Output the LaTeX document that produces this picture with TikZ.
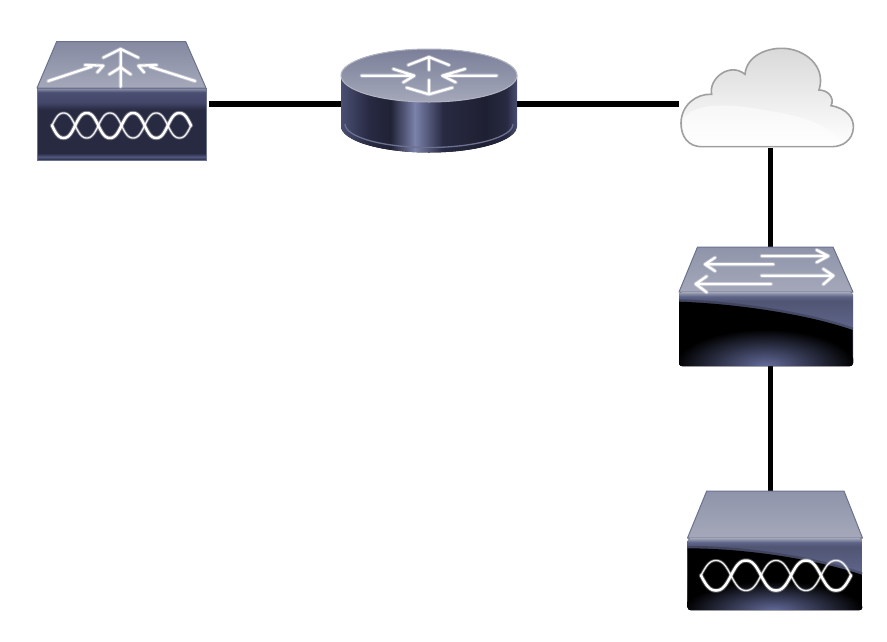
\documentclass[tikz,border=0pt]{standalone}
\usetikzlibrary{calc}
\definecolor{topL}{HTML}{A4A8B9}
\definecolor{topD}{HTML}{9094AA}
\definecolor{rimc}{HTML}{5E6488}
\definecolor{edgec}{HTML}{6C7190}
\definecolor{bandc}{HTML}{4A4E72}
\definecolor{darkc}{HTML}{282A42}
\definecolor{glowc}{HTML}{646C9C}
% in a declared shading the range 25bp..75bp spans the shaded path
\pgfdeclareverticalshading{frontagg}{100bp}{
 color(0bp)=(darkc); color(25bp)=(darkc!85!black); color(27.5bp)=(glowc!70!darkc); color(30bp)=(darkc);
 color(60bp)=(darkc); color(65bp)=(bandc!80!darkc); color(72bp)=(bandc); color(75bp)=(topL!85!bandc); color(100bp)=(topL)}
\pgfdeclareverticalshading{frontgloss}{100bp}{
 color(0bp)=(glowc!70!black); color(25bp)=(glowc!50!black); color(52bp)=(rimc); color(69bp)=(rimc!85!black); color(72bp)=(rimc); color(75bp)=(topL); color(100bp)=(topL)}
\pgfdeclarehorizontalshading{routerside}{100bp}{
 color(0bp)=(bandc); color(25bp)=(bandc); color(33bp)=(darkc); color(39bp)=(darkc!80!black);
 color(46bp)=(glowc!85!white); color(54bp)=(darkc); color(66bp)=(darkc!75!black); color(72bp)=(darkc); color(75bp)=(bandc); color(100bp)=(bandc)}
\tikzset{
 x=1pt,y=-1pt,
 port/.style={inner sep=0pt,outer sep=0pt,draw=none,fill=none},
 link/.style={black,line width=5.6pt},
 topface/.style={top color=topD,bottom color=topL,draw=edgec,line width=1pt,line join=round},
 glyph/.style={white,line width=2.3pt,line cap=round,line join=round},
 glyphsoft/.style={white,opacity=0.35,line width=4pt,line cap=round,line join=round},
 px3/.style={x=0.3333pt,y=-0.3333pt}
}
% double wave: left, right, centre y, amplitude, lobes
\newcommand{\twist}[5]{%
 \pgfmathsetmacro{\wavek}{180*#5/(#2-#1)}
 \draw[white,opacity=0.3,line width=4.4pt,line join=round,line cap=round] plot[domain=#1:#2,samples=181] (\x,{#3+#4/0.95*(sin(\wavek*(\x-#1))+0.05*sin(3*\wavek*(\x-#1)))});
 \draw[white,opacity=0.3,line width=3pt,line join=round,line cap=round] plot[domain=#1:#2,samples=181] (\x,{#3-#4/0.95*(sin(\wavek*(\x-#1))+0.05*sin(3*\wavek*(\x-#1)))});
 \draw[white,opacity=0.9,line width=1.3pt,line join=round,line cap=round] plot[domain=#1:#2,samples=181] (\x,{#3-#4/0.95*(sin(\wavek*(\x-#1))+0.05*sin(3*\wavek*(\x-#1)))});
 \draw[white,line width=2.5pt,line join=round,line cap=round] plot[domain=#1:#2,samples=181] (\x,{#3+#4/0.95*(sin(\wavek*(\x-#1))+0.05*sin(3*\wavek*(\x-#1)))});
}
\begin{document}
\begin{tikzpicture}
\useasboundingbox (0,0) rectangle (887,641);
\fill[white] (0,0) rectangle (887,641);

% logical extents of the icons, used by the connectors
\node[port,minimum width=172pt,minimum height=126pt] (agg) at (123,104) {};
\node[port,minimum width=176pt,minimum height=110pt] (router) at (429,104) {};
\node[port,minimum width=183pt,minimum height=88pt] (cloud) at (770.5,104) {};
\node[port,minimum width=174pt,minimum height=119pt] (switch) at (770.5,306.5) {};
\node[port,minimum width=174pt,minimum height=119pt] (ap) at (770.5,550.5) {};

\draw[link] (agg.east) -- (router.west);
\draw[link] (router.east) -- (cloud.west);
\draw[link] (cloud.south) -- (switch.north);
\draw[link] (switch.south) -- (ap.north);

% aggregation device
\path[topface,top color=topD!85!bandc] (56.7,41.5) -- (185.7,41.5) -- (206,88) -- (37,88) -- cycle;
\path[shading=frontagg,draw=edgec,line width=0.8pt] (37,88) rectangle (206,160.5);
\begin{scope}[shift={(20,25)},px3]
 \draw[glyphsoft] (302,185) -- (302,125) (268,148) -- (302,127) -- (332,148);
 \draw[glyph] (302,185) -- (302,125) (268,148) -- (302,127) -- (332,148);
 \draw[glyphsoft] (302,125) -- (302,72) (250,98) -- (302,72) -- (355,98);
 \draw[glyph] (302,125) -- (302,72) (250,98) -- (302,72) -- (355,98);
 \draw[glyphsoft] (85,168) -- (215,125) (195,120) -- (250,122) -- (232,142);
 \draw[glyph] (85,168) -- (215,125) (195,120) -- (250,122) -- (232,142);
 \draw[glyphsoft] (525,168) -- (390,125) (410,120) -- (355,122) -- (372,142);
 \draw[glyph] (525,168) -- (390,125) (410,120) -- (355,122) -- (372,142);
\end{scope}
\twist{52}{191}{125.5}{12.5}{6}

% router
\begin{scope}
 \clip (341,75) -- (341,126) arc[start angle=180,end angle=0,x radius=88,y radius=26.5] -- (517,75) -- cycle;
 \fill[shading=routerside] (341,49) rectangle (517,153);
 \draw[edgec,line width=1.3pt] (345,124) arc[start angle=180,end angle=0,x radius=84,y radius=23.5];
\end{scope}
\fill[top color=topD!70!bandc,bottom color=topL,draw=topL!85!white,line width=1pt] (429,75.5) ellipse[x radius=88,y radius=26.5];
\begin{scope}[shift={(325,35)},px3]
 \draw[glyphsoft] (110,122) -- (265,122) (205,102) -- (268,122) -- (235,142);
 \draw[glyph] (110,122) -- (265,122) (205,102) -- (268,122) -- (235,142);
 \draw[glyphsoft] (515,122) -- (355,122) (420,102) -- (352,122) -- (392,142);
 \draw[glyph] (515,122) -- (355,122) (420,102) -- (352,122) -- (392,142);
 \draw[glyphsoft] (312,105) -- (312,68) (250,90) -- (312,66) -- (372,90);
 \draw[glyph] (312,105) -- (312,68) (250,90) -- (312,66) -- (372,90);
 \draw[glyphsoft] (312,135) -- (312,175) (245,158) -- (312,178) -- (382,158);
 \draw[glyph] (312,135) -- (312,175) (245,158) -- (312,178) -- (382,158);
\end{scope}

% cloud
\begin{scope}[shift={(665,35)},px3]
 \path[top color=gray!30,bottom color=white,draw=gray!75,line width=1.6pt]
  (110,335) .. controls (70,335) and (48,305) .. (48,265)
  .. controls (48,210) and (95,175) .. (140,178)
  .. controls (130,130) and (195,80) .. (240,118)
  .. controls (245,60) and (310,38) .. (355,40)
  .. controls (420,42) and (485,95) .. (462,165)
  .. controls (490,165) and (510,190) .. (498,212)
  .. controls (545,220) and (568,250) .. (565,280)
  .. controls (562,315) and (535,335) .. (500,335) -- cycle;
 \fill[white,opacity=0.5] (54,250) .. controls (90,205) and (180,205) .. (280,222)
  .. controls (400,240) and (490,265) .. (530,322)
  .. controls (520,330) and (510,332) .. (500,332) -- (110,332)
  .. controls (70,332) and (50,300) .. (54,250) -- cycle;
\end{scope}

% switch
\path[topface] (697.5,247) -- (833,247) -- (853,292) -- (679,292) -- cycle;
\begin{scope}
 \path[clip,rounded corners=3pt] (679,292) -- (853,292) -- (853,366) -- (679,366) -- cycle;
 \fill[shading=frontgloss] (679,292) rectangle (853,366);
 \begin{scope}[shift={(665,235)},px3]
  \draw[black,opacity=0.2,line width=5pt] (40,200) .. controls (200,205) and (420,235) .. (563,285);
  \fill[black] (40,200) .. controls (200,205) and (420,235) .. (563,285) -- (563,395) -- (40,395) -- cycle;
  \fill[inner color=glowc,outer color=black] (300,393) ellipse[x radius=270,y radius=110];
 \end{scope}
\end{scope}
\begin{scope}[shift={(665,235)},px3]
 \draw[glyphsoft] (290,63) -- (490,63) (455,45) -- (490,63) -- (455,82);
 \draw[glyph] (290,63) -- (490,63) (455,45) -- (490,63) -- (455,82);
 \draw[glyphsoft] (325,88) -- (120,88) (150,68) -- (120,88) -- (150,108);
 \draw[glyph] (325,88) -- (120,88) (150,68) -- (120,88) -- (150,108);
 \draw[glyphsoft] (290,122) -- (505,122) (475,102) -- (505,122) -- (475,148);
 \draw[glyph] (290,122) -- (505,122) (475,102) -- (505,122) -- (475,148);
 \draw[glyphsoft] (318,147) -- (92,147) (125,124) -- (92,147) -- (125,172);
 \draw[glyph] (318,147) -- (92,147) (125,124) -- (92,147) -- (125,172);
\end{scope}

% access point
\path[topface] (706.7,491) -- (844,491) -- (862.5,538) -- (687.5,538) -- cycle;
\begin{scope}
 \path[clip,rounded corners=3pt] (687.5,538) -- (862.5,538) -- (862.5,610) -- (687.5,610) -- cycle;
 \fill[shading=frontgloss] (687.5,538) rectangle (862.5,610);
 \begin{scope}[shift={(670,480)},px3]
  \draw[black,opacity=0.2,line width=5pt] (52,205) .. controls (220,205) and (430,235) .. (578,285);
  \fill[black] (52,205) .. controls (220,205) and (430,235) .. (578,285) -- (578,395) -- (52,395) -- cycle;
  \fill[inner color=glowc,outer color=black] (310,393) ellipse[x radius=270,y radius=90];
 \end{scope}
\end{scope}
\twist{701}{851}{575.5}{15}{5}
\end{tikzpicture}
\end{document}
